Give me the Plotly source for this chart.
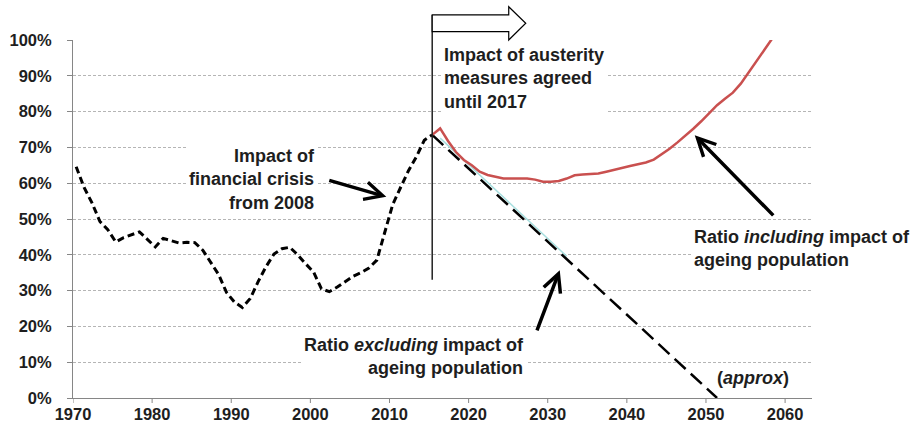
import plotly.graph_objects as go

# Fiscal-year points sit part-way through each calendar year on the axis
FY_OFFSET = 0.4

hist_years = list(range(1970, 2016))
hist_ratio = [64.6, 58.8, 54.5, 49.3, 47.0, 43.6, 44.8, 45.6, 46.4, 44.3,
              42.2, 44.6, 43.9, 43.3, 43.5, 43.4, 41.3, 38.0, 34.5, 29.5,
              26.8, 25.3, 27.8, 32.5, 36.7, 40.2, 41.7, 42.1, 40.0, 37.5,
              35.2, 30.5, 29.7, 31.0, 32.6, 34.0, 35.0, 36.3, 38.5, 46.0,
              54.0, 58.8, 63.5, 67.4, 72.0, 73.5]

incl_years = list(range(2015, 2059))
incl_ratio = [73.5, 75.3, 71.8, 68.7, 66.5, 65.0, 63.2, 62.3, 61.8, 61.3,
              61.3, 61.3, 61.3, 61.0, 60.4, 60.4, 60.6, 61.3, 62.2, 62.4,
              62.6, 62.7, 63.2, 63.8, 64.4, 64.8, 65.3, 65.8, 66.6, 68.0,
              69.6, 71.4, 73.2, 75.2, 77.3, 79.6, 81.8, 83.6, 85.3, 87.8,
              91.0, 94.2, 97.4, 100.5]

excl_years = [2015, 2051]
excl_ratio = [73.5, 0.0]

excl_base_years = [2016, 2032]
excl_base_ratio = [72.6, 39.6]

y_ticks = list(range(0, 101, 10))
y_tick_labels = [f"{v}%" for v in y_ticks]
x_ticks = list(range(1970, 2061, 10))

FONT = "Liberation Sans, Arial, sans-serif"
INK = "#1e1e1e"
AXIS = "#868686"
PLOT_H = 429 - 40 - 31


def shift(years):
    return [y + FY_OFFSET for y in years]


fig = go.Figure()

fig.add_trace(go.Scatter(
    x=shift(excl_base_years), y=excl_base_ratio, mode="lines",
    line=dict(color="#a6dede", width=1.5), hoverinfo="skip"))

fig.add_trace(go.Scatter(
    x=shift(excl_years), y=excl_ratio, mode="lines",
    line=dict(color="black", width=2.5, dash="15px,7px")))

fig.add_trace(go.Scatter(
    x=shift(incl_years), y=incl_ratio, mode="lines",
    line=dict(color="#c9504f", width=2.5)))

fig.add_trace(go.Scatter(
    x=shift(hist_years), y=hist_ratio, mode="lines",
    line=dict(color="black", width=3, dash="7px,4px")))

# Year tick marks hanging below the x axis
for yr in x_ticks:
    fig.add_shape(type="line", xref="x", yref="paper", x0=yr, x1=yr,
                  y0=0, y1=-5 / PLOT_H, line=dict(color=AXIS, width=1))

# Marker line at the start of the projections, topped by a block arrow
x0 = hist_years[-1] + FY_OFFSET
fig.add_shape(type="line", xref="x", yref="paper", x0=x0, x1=x0,
              y0=0.33, y1=1.07, line=dict(color="#222222", width=1.5))
xb, xt = 2025.07, 2027.22
fig.add_shape(
    type="path", xref="x", yref="paper",
    path=(f"M {x0},1.07 L {xb},1.07 L {xb},1.093 L {xt},1.0467 "
          f"L {xb},1.0 L {xb},1.0232 L {x0},1.0232 Z"),
    fillcolor="white", line=dict(color="black", width=1.2), layer="above")

text_font = dict(family=FONT, size=18, color=INK, weight=700)


def label(x, y, text, xanchor, align):
    fig.add_annotation(x=x, y=y, xref="x", yref="y", text=text,
                       showarrow=False, xanchor=xanchor, yanchor="middle",
                       align=align, font=text_font, bgcolor="white",
                       borderpad=2)


def pointer(x, y, ax, ay):
    fig.add_annotation(x=x, y=y, ax=ax, ay=ay, xref="x", yref="y",
                       axref="x", ayref="y", text="", showarrow=True,
                       arrowhead=5, arrowsize=1, arrowwidth=3.5,
                       arrowcolor="black", standoff=0, startstandoff=0)


label(2000.94, 61.0, "Impact of<br>financial crisis<br>from 2008", "right", "right")
label(2016.5, 89.2, "Impact of austerity<br>measures agreed<br>until 2017", "left", "left")
label(2027.35, 11.6, "Ratio <i>excluding</i> impact of<br>ageing population", "right", "right")
label(2048.07, 41.85, "Ratio <i>including</i> impact of<br>ageing population", "left", "left")
label(2051.0, 5.5, "(<i>approx</i>)", "left", "left")

pointer(2009.6, 56.2, 2002.2, 60.9)
pointer(2031.52, 35.7, 2028.57, 18.45)
pointer(2048.58, 73.4, 2058.69, 50.6)

tick_font = dict(family=FONT, size=16.5, color=INK, weight=700)

fig.update_layout(
    width=915, height=429,
    margin=dict(l=73, r=103, t=40, b=31, autoexpand=False),
    paper_bgcolor="white", plot_bgcolor="white",
    showlegend=False,
    xaxis=dict(range=[1970, 2063.4], tickmode="array", tickvals=x_ticks,
               ticks="", ticklen=0, showline=True, linecolor=AXIS,
               linewidth=1, showgrid=False, zeroline=False,
               tickfont=tick_font, ticklabelstandoff=1, automargin=False),
    yaxis=dict(range=[0, 100], tickmode="array", tickvals=y_ticks,
               ticktext=y_tick_labels, ticks="outside", ticklen=5,
               tickcolor=AXIS, showline=True, linecolor=AXIS,
               linewidth=1, showgrid=True, gridcolor="#b5b5b5",
               griddash="3px,2px", gridwidth=1, zeroline=False,
               tickfont=tick_font, ticklabelstandoff=12, automargin=False),
)

fig.write_html("out.html")
